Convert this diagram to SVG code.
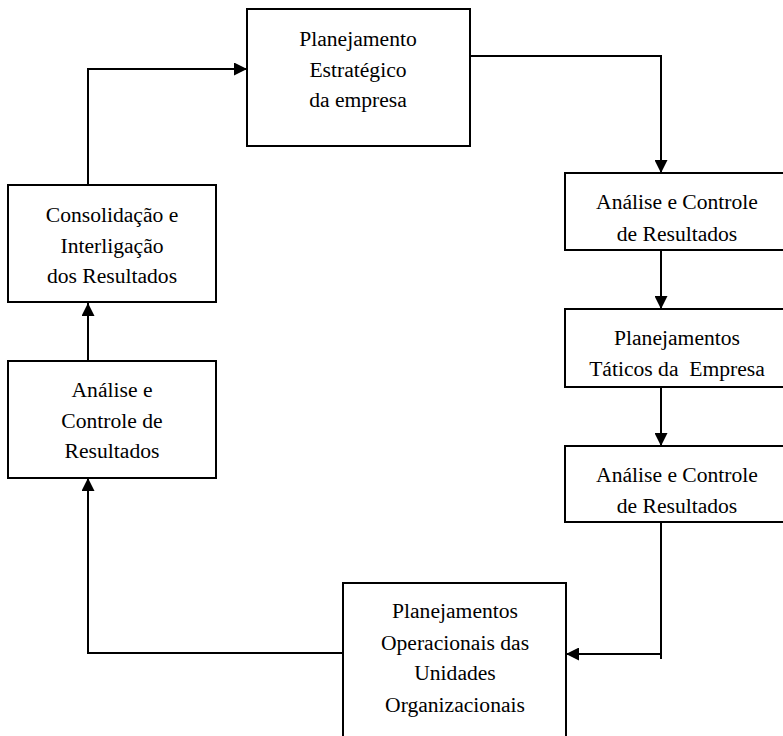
<svg xmlns="http://www.w3.org/2000/svg" width="783" height="736" viewBox="0 0 783 736" font-family="'Liberation Serif', 'DejaVu Serif', serif">
  <style>
    .box { fill: #ffffff; stroke: #000000; stroke-width: 2; }
    .lbl { font-family: 'Liberation Serif', 'DejaVu Serif', serif; font-size: 21.6px; fill: #000000; text-anchor: middle; }
    .wire { fill: none; stroke: #000000; stroke-width: 2; }
  </style>
  <defs>
    <marker id="arrow" viewBox="0 0 13 13" refX="13" refY="6.5" markerWidth="13" markerHeight="13" markerUnits="userSpaceOnUse" orient="auto">
      <path d="M0,0 L13,6.5 L0,13 Z" fill="#000000"/>
    </marker>
  </defs>

  <rect width="783" height="736" fill="#ffffff"/>

  <g id="connectors">
    <!-- strategic planning -> first result analysis -->
    <path class="wire" d="M470,56 H661 V173" marker-end="url(#arrow)"/>
    <!-- analysis -> tactical planning -->
    <path class="wire" d="M661,250 V309" marker-end="url(#arrow)"/>
    <!-- tactical planning -> analysis -->
    <path class="wire" d="M661,387 V446" marker-end="url(#arrow)"/>
    <!-- analysis -> operational planning -->
    <path class="wire" d="M661,522 V659"/>
    <path class="wire" d="M661,654 H566" marker-end="url(#arrow)"/>
    <!-- operational planning -> left analysis -->
    <path class="wire" d="M343,653 H88 V478" marker-end="url(#arrow)"/>
    <!-- left analysis -> consolidation -->
    <path class="wire" d="M88,361 V303" marker-end="url(#arrow)"/>
    <!-- consolidation -> strategic planning -->
    <path class="wire" d="M88,185 V69 H247" marker-end="url(#arrow)"/>
  </g>

  <g id="planejamento-estrategico">
    <rect class="box" x="247" y="9" width="223" height="137"/>
    <text class="lbl" x="358" y="46">Planejamento</text>
    <text class="lbl" x="358" y="77">Estratégico</text>
    <text class="lbl" x="358" y="107">da empresa</text>
  </g>

  <g id="analise-1">
    <rect class="box" x="565" y="173" width="224" height="77"/>
    <text class="lbl" x="677" y="209">Análise e Controle</text>
    <text class="lbl" x="677" y="241">de Resultados</text>
  </g>

  <g id="planejamentos-taticos">
    <rect class="box" x="565" y="309" width="224" height="78"/>
    <text class="lbl" x="677" y="345">Planejamentos</text>
    <text class="lbl" x="677" y="376" xml:space="preserve">Táticos da  Empresa</text>
  </g>

  <g id="analise-2">
    <rect class="box" x="565" y="446" width="224" height="76"/>
    <text class="lbl" x="677" y="482">Análise e Controle</text>
    <text class="lbl" x="677" y="513">de Resultados</text>
  </g>

  <g id="planejamentos-operacionais">
    <rect class="box" x="343" y="583" width="223" height="160"/>
    <text class="lbl" x="455" y="618">Planejamentos</text>
    <text class="lbl" x="455" y="650">Operacionais das</text>
    <text class="lbl" x="455" y="680">Unidades</text>
    <text class="lbl" x="455" y="712">Organizacionais</text>
  </g>

  <g id="analise-3">
    <rect class="box" x="8" y="361" width="208" height="117"/>
    <text class="lbl" x="112" y="397">Análise e</text>
    <text class="lbl" x="112" y="428">Controle de</text>
    <text class="lbl" x="112" y="458">Resultados</text>
  </g>

  <g id="consolidacao">
    <rect class="box" x="8" y="185" width="208" height="117"/>
    <text class="lbl" x="112" y="222">Consolidação e</text>
    <text class="lbl" x="112" y="253">Interligação</text>
    <text class="lbl" x="112" y="283">dos Resultados</text>
  </g>
</svg>
